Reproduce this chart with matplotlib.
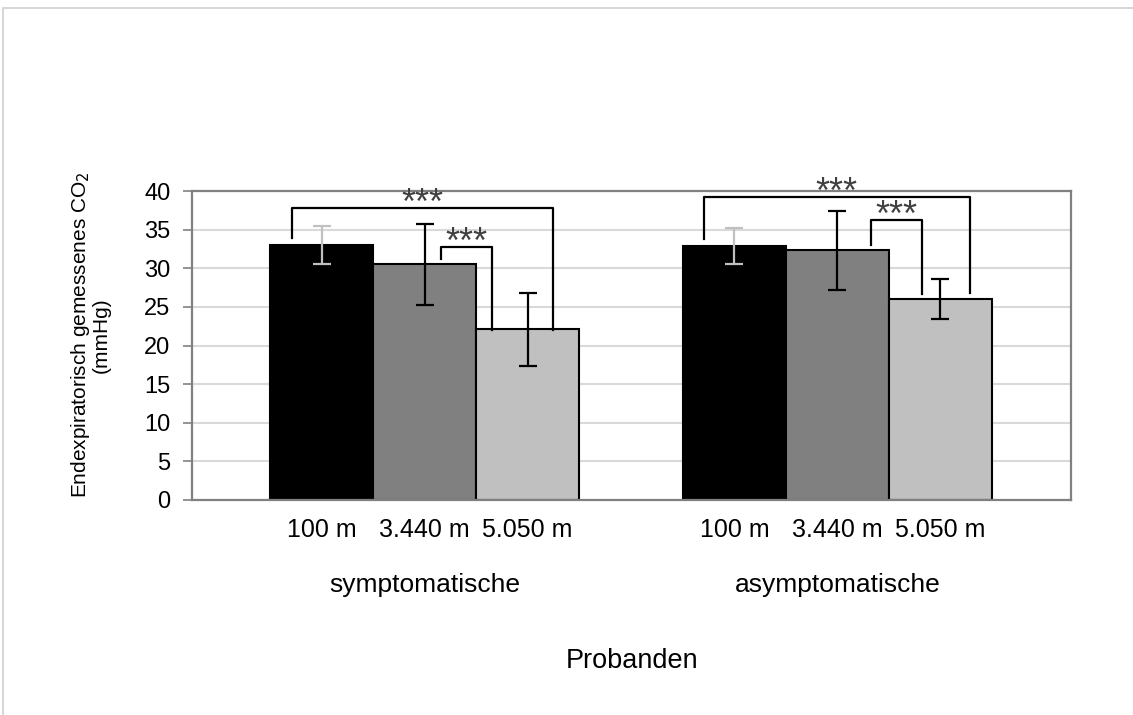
import matplotlib
matplotlib.use("Agg")
import matplotlib.pyplot as plt
from matplotlib.patches import Rectangle
import numpy as np

plt.rcParams['font.family'] = ['Liberation Sans', 'DejaVu Sans']

groups = ["symptomatische", "asymptomatische"]
altitudes = ["100 m", "3.440 m", "5.050 m"]
means_sym = [33.0, 30.5, 22.1]
err_sym = [2.5, 5.2, 4.7]
means_asym = [32.9, 32.3, 26.0]
err_asym = [2.35, 5.1, 2.6]
bar_colors = ["#000000", "#808080", "#c0c0c0"]
err_colors = ["#c0c0c0", "#000000", "#000000"]

# significance brackets: (group, bar_a, bar_b, top, bottom_a, bottom_b, dx_a, dx_b)
brackets = [
    (0, 0, 2, 37.8, 33.9, 22.0, -0.29, 0.25),
    (0, 1, 2, 32.75, 31.2, 22.0, 0.16, -0.35),
    (1, 0, 2, 39.2, 33.8, 26.8, -0.30, 0.29),
    (1, 1, 2, 36.2, 33.0, 26.7, 0.33, -0.18),
]

W, H = 1133, 715
fig = plt.figure(figsize=(W / 100, H / 100), dpi=100)
# outer frame
fig.patches.append(Rectangle((3 / W, -0.1), 1.2, (715 - 8) / H + 0.1,
                             transform=fig.transFigure, fill=False,
                             edgecolor="#d0d0d0", linewidth=1.2))

ax = fig.add_axes([192 / W, (715 - 500) / H, (1071 - 192) / W, (500 - 191) / H])

bw = 1.0
group_centers = [0.0, 4.01]
all_means = [means_sym, means_asym]
all_errs = [err_sym, err_asym]
pos = {}
for g, gc in enumerate(group_centers):
    for i in range(3):
        x = gc + (i - 1) * bw
        pos[(g, i)] = x
        ax.bar(x, all_means[g][i], width=bw, color=bar_colors[i],
               edgecolor="#000000", linewidth=1.5, zorder=2)
        ax.errorbar(x, all_means[g][i], yerr=all_errs[g][i], fmt="none",
                    ecolor=err_colors[i], elinewidth=1.6, capsize=6.5,
                    capthick=1.6, zorder=3)
        ax.text(x, -4.79, altitudes[i], ha="center", va="baseline",
                fontsize=18)
    ax.text(gc, -11.9, groups[g], ha="center", va="baseline", fontsize=19)

for (g, a, b, top, ba, bb, dxa, dxb) in brackets:
    xa = pos[(g, a)] + dxa
    xb = pos[(g, b)] + dxb
    ax.plot([xa, xa, xb, xb], [ba, top, top, bb], color="#000000",
            linewidth=1.6, clip_on=False, zorder=4)
    ax.text((xa + xb) / 2, top - 0.75, "***", ha="center", va="baseline",
            fontsize=26, color="#404040", clip_on=False)

ax.set_xlim(-2.26, 6.28)
ax.set_ylim(0, 40)
ax.set_yticks(np.arange(0, 41, 5))
ax.set_xticks([])
ax.tick_params(axis="y", labelsize=17, length=6.5, width=1.2, color="#808080",
               direction="out", pad=9)
ax.yaxis.grid(True, color="#d9d9d9", linewidth=1.5, zorder=0)
ax.set_axisbelow(True)
for s in ax.spines.values():
    s.set_color("#808080")
    s.set_linewidth(1.6)

fig.text(90 / W, 1 - 335 / H, "Endexpiratorisch gemessenes CO$_2$\n(mmHg)",
         rotation=90, ha="center", va="center", fontsize=15,
         linespacing=0.95)
fig.text(632 / W, 1 - 668 / H, "Probanden", ha="center", va="baseline",
         fontsize=19.5)

fig.savefig("out.png", dpi=100)
